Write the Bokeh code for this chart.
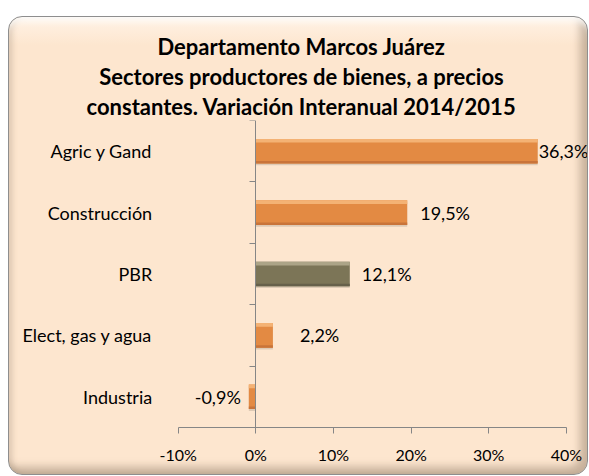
from bokeh.plotting import figure
from bokeh.models import (ColumnDataSource, FactorRange, Range1d, LinearAxis, FixedTicker,
                          PrintfTickFormatter, LabelSet, Spacer, Title)
from bokeh.core.properties import value
from bokeh.layouts import column, row
from bokeh.transform import dodge
from bokeh.embed import file_html
from bokeh.resources import INLINE

# ---- data ----
title_lines = ["Departamento Marcos Juárez",
               "Sectores productores de bienes, a precios",
               "constantes. Variación Interanual 2014/2015"]
sectors = ["Agric y Gand", "Construcción", "PBR", "Elect, gas y agua", "Industria"]
variation = [36.3, 19.5, 12.1, 2.2, -0.9]
x_ticks = [-10, 0, 10, 20, 30, 40]

# ---- styles ----
bar_colors = ["#E38A43", "#E38A43", "#7C7557", "#E38A43", "#E38A43"]
light_colors = ["#F4B274", "#F4B274", "#ACA487", "#F4B274", "#F4B274"]
dark_colors = ["#C9743A", "#C9743A", "#66604A", "#C9743A", "#C9743A"]
label_dx = [1, 13, 12, 27, -8]

labels = [("%.1f" % v).replace(".", ",") + "%" for v in variation]
aligns = ["left" if v >= 0 else "right" for v in variation]

src = ColumnDataSource(dict(sector=sectors, value=variation, color=bar_colors,
                            light=light_colors, dark=dark_colors, label=labels,
                            dx=label_dx, align=aligns, zero=[0] * len(sectors)))

FONT = "Lato"

factors = list(reversed(sectors))
# the frame spans the whole inner box; the axes sit inside it at fixed places
p = figure(width=580, height=459, output_backend="svg", toolbar_location=None,
           x_range=Range1d(-30.95, 42.72), y_range=FactorRange(*factors, range_padding=0),
           min_border_left=6, min_border_right=2, min_border_top=103, min_border_bottom=49)
p.background_fill_alpha = 0
p.border_fill_alpha = 0
p.outline_line_color = None
p.grid.grid_line_color = None
p.styles = {
    "border": "1px solid #8E8E8E",
    "border-radius": "14px",
    "background": "linear-gradient(180deg, #FFF3E6 0px, #FDE6CF 28px, #FDE6CF 100%)",
    "box-shadow": "inset 0 10px 6px -6px rgba(255,255,255,0.9), inset -7px -7px 9px rgba(120,100,80,0.40), inset 4px 0 5px rgba(150,130,110,0.25)",
    "box-sizing": "border-box",
}


def style_title(t):
    t.align = "center"
    t.text_font = FONT
    t.text_font_style = "bold"
    t.text_font_size = "22px"
    t.text_color = "#000000"
    t.standoff = 1


# one centred title per line: the main title is outermost, added ones stack
# outward from the frame in the order they are added
p.title.text = title_lines[0]
style_title(p.title)
for line in reversed(title_lines[1:]):
    t = Title(text=line)
    style_title(t)
    p.add_layout(t, "above")

# shadow, bar, bevel
p.hbar(y=dodge("sector", -0.03, range=p.y_range), left="zero", right="value", height=0.4,
       source=src, fill_color="#000000", fill_alpha=0.12, line_color=None)
p.hbar(y="sector", left="zero", right="value", height=0.4, source=src,
       fill_color="color", line_color=None)
p.hbar(y=dodge("sector", 0.17, range=p.y_range), left="zero", right="value", height=0.06,
       source=src, fill_color="light", line_color=None)
p.hbar(y=dodge("sector", -0.18, range=p.y_range), left="zero", right="value", height=0.04,
       source=src, fill_color="dark", line_color=None)

# category axis (labels only), placed at the -10% edge
ya = p.yaxis[0]
ya.fixed_location = x_ticks[0]
ya.axis_line_color = None
ya.major_tick_line_color = None
ya.major_tick_out = 0
ya.major_tick_in = 0
ya.major_label_standoff = 26
ya.major_label_text_font = FONT
ya.major_label_text_font_size = "18px"
ya.major_label_text_color = "#000000"

# value axis
xa = p.xaxis[0]
xa.bounds = (x_ticks[0], x_ticks[-1])
xa.ticker = FixedTicker(ticks=x_ticks)
xa.formatter = PrintfTickFormatter(format="%d%%")
xa.axis_line_color = "#868686"
xa.major_tick_line_color = "#868686"
xa.major_tick_out = 6
xa.major_tick_in = 0
xa.minor_tick_line_color = None
xa.major_label_standoff = 11
xa.major_label_text_font = FONT
xa.major_label_text_font_size = "16px"
xa.major_label_text_color = "#000000"

# vertical axis crossing at 0 with ticks between categories
bounds = list(range(len(sectors) + 1))
ba = LinearAxis(fixed_location=0, ticker=FixedTicker(ticks=bounds),
                major_label_overrides={b: "" for b in bounds})
ba.axis_line_color = "#868686"
ba.major_tick_line_color = "#868686"
ba.major_tick_out = 6
ba.major_tick_in = 0
ba.minor_tick_line_color = None
ba.major_label_standoff = 0
p.add_layout(ba, "left")

# data labels
p.add_layout(LabelSet(x="value", y="sector", text="label", source=src, x_offset="dx",
                      text_align="align", text_baseline="middle", text_font=value(FONT),
                      text_font_size="18px", text_color="#000000"))

layout = row(Spacer(width=8, height=10), column(Spacer(width=580, height=16), p))
open("out.html", "w").write(file_html(layout, INLINE))
